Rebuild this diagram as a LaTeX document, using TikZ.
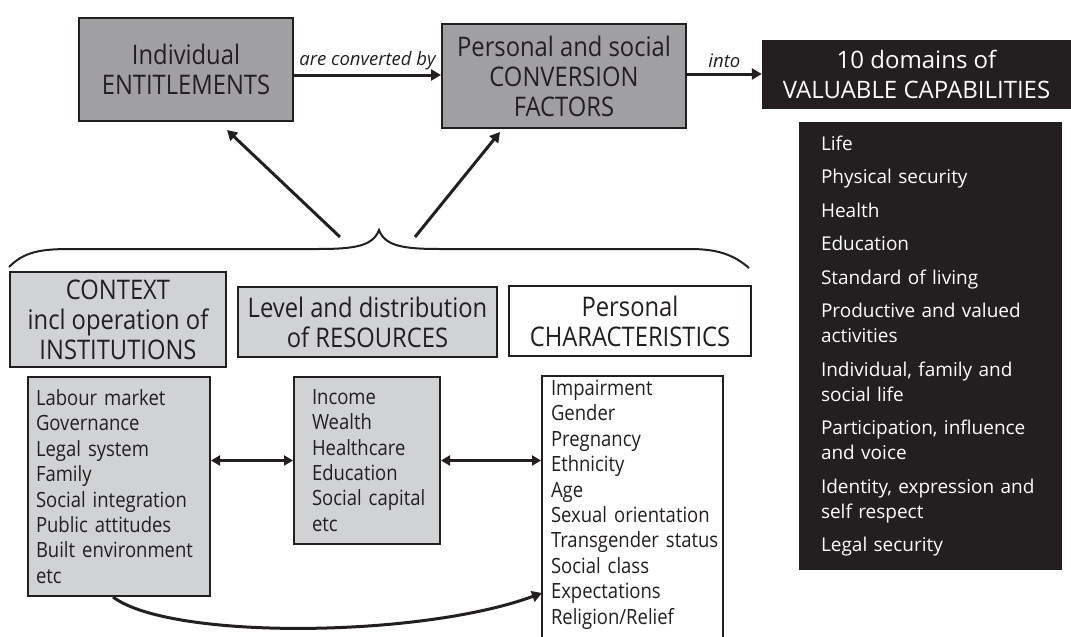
\documentclass[tikz,border=0pt]{standalone}
\usepackage{fontspec}
\setmainfont{Open Sans}
\newfontfamily\condfont[FakeStretch=0.88]{Open Sans}
\usetikzlibrary{arrows.meta}
\definecolor{ink}{HTML}{231F20}
\definecolor{midgrey}{HTML}{A0A0A2}
\definecolor{lightgrey}{HTML}{D1D2D4}
\newcommand{\listfont}{\condfont\fontsize{21}{25.4}\selectfont\hbadness10000\relax\hfuzz200pt\relax}
\begin{document}
\begin{tikzpicture}[x=1pt,y=-1pt]
\tikzstyle{box}=[draw=ink,line width=2pt,inner sep=0pt,align=center,text=ink,font=\condfont\fontsize{27}{30}\selectfont]
\tikzstyle{topbox}=[box,fill=midgrey]
\tikzstyle{midbox}=[box,fill=lightgrey]
\tikzstyle{capbox}=[fill=ink,text=white,inner sep=0pt,align=center,font=\fontsize{24}{30}\selectfont]
\tikzstyle{listbox}=[draw=ink,line width=2pt,inner ysep=4pt,align=left,text=ink,font=\listfont]
\tikzstyle{arr}=[draw=ink,line width=3pt,-{Triangle[length=10pt,width=11pt]}]
\tikzstyle{dbl}=[draw=ink,line width=3pt,{Triangle[length=9pt,width=10pt]}-{Triangle[length=9pt,width=10pt]}]
\tikzstyle{tag}=[text=ink,inner sep=1pt,font=\itshape\fontsize{18.5}{22}\selectfont]
\clip (0,0) rectangle (1071,637);
\fill[white] (0,0) rectangle (1071,637);
% top row
\node[topbox,minimum width=214,minimum height=103] (ent) at (186,69.5) {Individual\\ENTITLEMENTS};
\node[topbox,minimum width=244,minimum height=104] (conv) at (564,76) {Personal and social\\CONVERSION\\FACTORS};
\node[capbox,minimum width=309,minimum height=69] (caps) at (916.5,74.5) {10 domains of\\VALUABLE CAPABILITIES};
\draw[arr] ([yshift=-5.5pt]ent.east) -- node[tag,above=3pt] {are converted by} ([yshift=-5.5pt]ent.east -| conv.west);
\draw[arr] ([yshift=2pt]conv.east) -- node[tag,above=4pt] {into} ([yshift=2pt]conv.east -| caps.west);
% domains
\node[capbox,align=left,text width=219,inner xsep=22pt,minimum height=448,font=\fontsize{19}{25}\selectfont] (doms) at (930.5,346)
  {Life\\[8.5pt] Physical security\\[8.5pt] Health\\[8.5pt] Education\\[8.5pt] Standard of living\\[8.5pt]
   Productive and valued\\ activities\\[8.5pt] Individual, family and\\ social life\\[8.5pt]
   Participation, influence\\ and voice\\[8.5pt] Identity, expression and\\ self respect\\[8.5pt] Legal security};
% brace
\coordinate (tip) at (379,230);
\coordinate (lfoot) at (340,237);
\coordinate (rfoot) at (415,237);
\draw[ink,line width=2pt] (9,267) .. controls (24,252) and (40,249) .. (70,249) -- (318,249)
  .. controls (355,249) and (373,246) .. (tip) .. controls (385,246) and (403,249) .. (440,249) -- (690,249)
  .. controls (718,249) and (734,255) .. (749,268);
\draw[arr] (lfoot) -- ([xshift=41pt,yshift=-8pt]ent.south);
\draw[arr] (rfoot) -- ([xshift=-64pt,yshift=-3pt]conv.south);
% middle row
\node[midbox,minimum width=216,minimum height=95] (ctx) at (118,319.5) {CONTEXT\\incl operation of\\INSTITUTIONS};
\node[midbox,minimum width=259,minimum height=70] (lev) at (367.5,322) {Level and distribution\\of RESOURCES};
\node[box,fill=white,minimum width=242,minimum height=70] (pers) at (630,321) {Personal\\CHARACTERISTICS};
% lists
\node[listbox,fill=lightgrey,anchor=north,text width=166,inner xsep=8pt,minimum height=219] (lab) at (119,376)
  {Labour market\\Governance\\Legal system\\Family\\\mbox{Social integration}\\Public attitudes\\\mbox{Built environment}\\etc};
\node[listbox,fill=lightgrey,anchor=north,text width=110,inner xsep=18pt,minimum height=167] (inc) at (367,376)
  {Income\\Wealth\\Healthcare\\Education\\\mbox{Social capital}\\etc};
\node[listbox,fill=white,anchor=north,text width=163,inner xsep=9pt] (imp) at (632.5,375)
  {Impairment\\Gender\\Pregnancy\\Ethnicity\\Age\\\mbox{Sexual orientation}\\\mbox{Transgender status}\\Social class\\Expectations\\Religion/Relief\\[20pt]\mbox{}};
\draw[dbl] (inc.west -| lab.east) -- (inc.west);
\draw[dbl] (inc.east) -- (inc.east -| imp.west);
\draw[arr] ([xshift=-6pt]lab.south) .. controls (170,640) and (420,638) .. (542,593);
\end{tikzpicture}
\end{document}
